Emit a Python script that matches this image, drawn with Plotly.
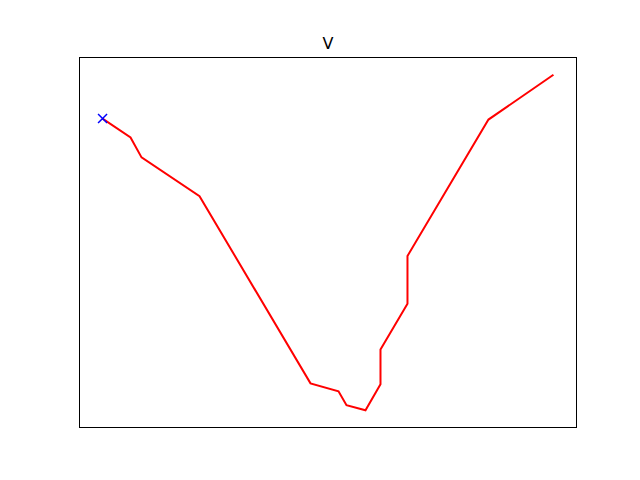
import plotly.graph_objects as go

# path coordinates (arbitrary units)
xs = [0, 28, 39, 97, 208, 236, 244, 263, 278, 278, 305, 305, 386, 451]
ys = [293, 274, 254, 215, 27, 19, 5, 0, 26, 61, 107, 155, 292, 337]
start_x = [0]
start_y = [293]

x_pad = (max(xs) - min(xs)) * 0.05
y_pad = (max(ys) - min(ys)) * 0.05

fig = go.Figure()
fig.add_trace(go.Scatter(x=xs, y=ys, mode="lines",
                         line=dict(color="red", width=2), showlegend=False))
fig.add_trace(go.Scatter(x=start_x, y=start_y, mode="markers",
                         marker=dict(symbol="x-thin", size=9, color="blue",
                                     line=dict(color="blue", width=1.5)),
                         showlegend=False))

# the page body adds an 8px offset, so margins are shifted accordingly
fig.update_layout(
    width=640, height=480,
    paper_bgcolor="white", plot_bgcolor="white",
    margin=dict(l=72, r=72, t=50, b=61),
    title=dict(text="V", x=0.5, xanchor="center", y=1 - 35 / 480, yanchor="middle",
               font=dict(family="DejaVu Sans", size=16, color="black")),
    font=dict(family="DejaVu Sans"),
)
fig.update_xaxes(range=[min(xs) - x_pad, max(xs) + x_pad], showticklabels=False,
                 ticks="", showgrid=False, zeroline=False,
                 showline=True, linecolor="black", linewidth=1, mirror=True)
fig.update_yaxes(range=[min(ys) - y_pad, max(ys) + y_pad], showticklabels=False,
                 ticks="", showgrid=False, zeroline=False,
                 showline=True, linecolor="black", linewidth=1, mirror=True)

fig.write_html("out.html")
